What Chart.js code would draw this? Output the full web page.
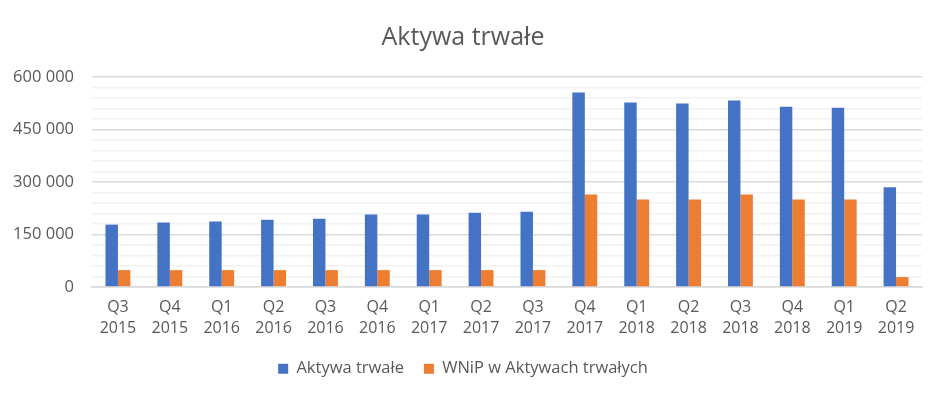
<!DOCTYPE html>
<html>
<head>
<meta charset="utf-8">
<script src="https://cdn.jsdelivr.net/npm/chart.js@4"></script>
<style>
  html, body { margin: 0; padding: 0; background: #fff; }
  #wrap { width: 944px; height: 397px; }
</style>
</head>
<body>
<div id="wrap"><canvas id="chart"></canvas></div>
<script>
const quarters = ["Q3", "Q4", "Q1", "Q2", "Q3", "Q4", "Q1", "Q2", "Q3", "Q4", "Q1", "Q2", "Q3", "Q4", "Q1", "Q2"];
const years = ["2015", "2015", "2016", "2016", "2016", "2016", "2017", "2017", "2017", "2017", "2018", "2018", "2018", "2018", "2019", "2019"];
const aktywaTrwale = [178000, 184000, 187000, 192000, 195000, 207000, 207000, 212000, 215000, 556000, 527000, 524000, 533000, 515000, 512000, 285000];
const wnip = [48000, 48000, 48000, 48000, 48000, 48000, 48000, 48000, 48000, 264000, 250000, 250000, 264000, 250000, 250000, 28000];

const labels = quarters.map((q, i) => [q, years[i]]);
const font = "'Open Sans', 'Noto Sans', sans-serif";

function fmt(v) {
    return String(v).replace(/\B(?=(\d{3})+(?!\d))/g, " ");
}

new Chart(document.getElementById("chart"), {
    type: "bar",
    data: {
        labels: labels,
        datasets: [{
            label: "Aktywa trwałe",
            data: aktywaTrwale,
            backgroundColor: "#4472C4",
            categoryPercentage: 0.48,
            barPercentage: 1
        }, {
            label: "WNiP w Aktywach trwałych",
            data: wnip,
            backgroundColor: "#ED7D31",
            categoryPercentage: 0.48,
            barPercentage: 1
        }]
    },
    options: {
        responsive: true,
        maintainAspectRatio: false,
        animation: false,
        layout: { padding: { left: 4, right: 22, top: 19, bottom: 10 } },
        plugins: {
            title: {
                display: true,
                text: "Aktywa trwałe",
                color: "#595959",
                font: { family: font, size: 25, weight: "normal" },
                padding: { top: 4, bottom: 24 }
            },
            legend: {
                position: "bottom",
                labels: {
                    color: "#595959",
                    font: { family: font, size: 16.5 },
                    boxWidth: 10,
                    boxHeight: 10,
                    padding: 20
                }
            },
            tooltip: { enabled: false }
        },
        scales: {
            x: {
                grid: { display: false },
                border: { color: "#d9d9d9", width: 1.5 },
                ticks: {
                    color: "#595959",
                    font: { family: font, size: 16, lineHeight: 1.3 },
                    padding: 2,
                    maxRotation: 0,
                    autoSkip: false
                }
            },
            y: {
                min: 0,
                max: 600000,
                border: { display: false },
                afterFit: (s) => { s.width = 88; },
                grid: {
                    color: (c) => c.tick && c.tick.value % 150000 === 0 ? "#d9d9d9" : "#f2f2f2",
                    lineWidth: 1.5,
                    drawTicks: false
                },
                ticks: {
                    stepSize: 30000,
                    autoSkip: false,
                    padding: 18,
                    color: "#595959",
                    font: { family: font, size: 16.5 },
                    callback: (v) => v % 150000 === 0 ? fmt(v) : ""
                }
            }
        }
    }
});
</script>
</body>
</html>
